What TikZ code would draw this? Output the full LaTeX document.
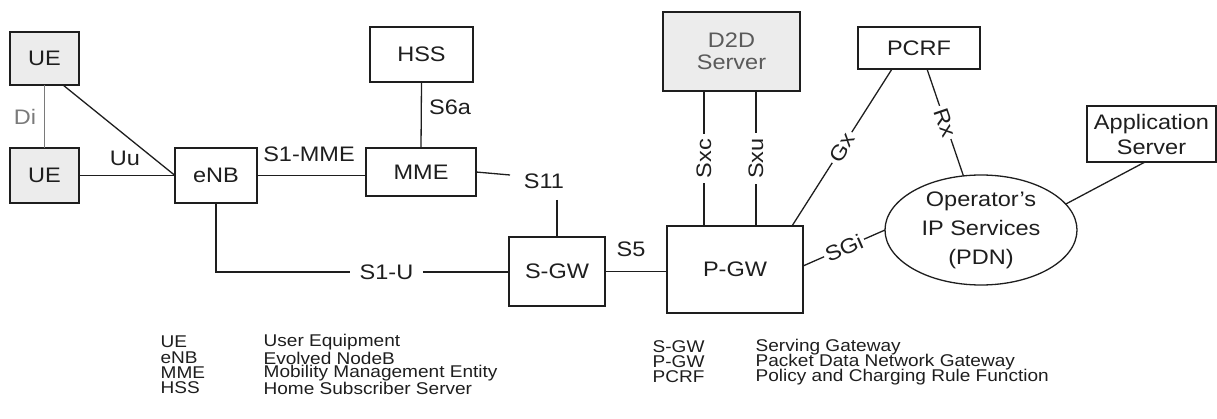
\documentclass[tikz,border=0pt]{standalone}
\usepackage{fontspec}
\setmainfont{Liberation Sans}[FakeStretch=1.12]
\usetikzlibrary{shapes.geometric,calc}
\definecolor{boxgray}{HTML}{ECECEC}
\definecolor{ink}{HTML}{1E1E1E}
\definecolor{softgray}{HTML}{7A7A7A}
\definecolor{d2dtext}{HTML}{5A5A5A}
\begin{document}
\begin{tikzpicture}[x=1pt,y=-1pt,line width=1.3pt,draw=ink,
  box/.style={draw=ink,rectangle,inner sep=0pt,outer sep=0pt,align=center,text=ink,
    font=\fontsize{21}{23}\selectfont},
  lbl/.style={text=ink,inner sep=1pt,font=\fontsize{21}{23}\selectfont},
  onl/.style={lbl,fill=white,sloped,midway,inner sep=3pt},
  leg/.style={anchor=west,inner sep=0pt,text=ink,font=\fontsize{17}{17}\selectfont}]
\useasboundingbox (0,0) rectangle (1217,419);
% nodes
\node[box,fill=boxgray,minimum width=69pt,minimum height=53pt] (ue1) at (44.5,58.5) {UE};
\node[box,fill=boxgray,minimum width=69pt,minimum height=55pt] (ue2) at (44.5,175.5) {UE};
\node[box,minimum width=82pt,minimum height=55pt] (enb) at (216,175.5) {eNB};
\node[box,minimum width=103pt,minimum height=55pt] (hss) at (421.5,54.5) {HSS};
\node[box,minimum width=110pt,minimum height=48pt] (mme) at (421,172) {MME};
\node[box,minimum width=96pt,minimum height=69pt] (sgw) at (557,271.5) {S-GW};
\node[box,minimum width=136pt,minimum height=87pt] (pgw) at (735,269.5) {P-GW};
\node[box,fill=boxgray,text=d2dtext,minimum width=137pt,minimum height=79pt,
  font=\fontsize{21}{22}\selectfont] (d2d) at (731.5,51.5) {D2D\\Server};
\node[box,minimum width=122pt,minimum height=42pt] (pcrf) at (919,48) {PCRF};
\node[box,minimum width=129pt,minimum height=56pt,font=\fontsize{21}{25}\selectfont]
  (app) at (1151.5,134) {Application\\Server};
\node[draw=ink,ellipse,minimum width=192pt,minimum height=110pt,inner sep=0pt,outer sep=0pt,
  align=center,text=ink,font=\fontsize{21}{29}\selectfont] (ell) at (981,230)
  {Operator's\\IP Services\\(PDN)};
\coordinate (s11a) at (510,175);
\coordinate (s11b) at (557,200);
% connectors
\draw[softgray] (ue1.south) -- (ue2.north);
\node[lbl,text=softgray] (di) at (25,117) {Di};
\draw ([xshift=18.5pt]ue1.south) -- (enb.west);
\draw (ue2.east) -- (enb.west);
\node[lbl] (uu) at (125,158) {Uu};
\draw (enb.east) -- (enb.east -| mme.west);
\node[lbl] (s1mme) at (309,154) {S1-MME};
\draw (hss.south) -- (mme.north);
\node[lbl] (s6a) at (450,107) {S6a};
\draw (mme.east) -- (s11a);
\node[lbl] (s11) at (544,181) {S11};
\draw (s11b) -- (s11b |- sgw.north);
\node[lbl,inner xsep=9pt] (s1u) at (386.5,272) {S1-U};
\draw (enb.south) |- (s1u.west);
\draw (s1u.east) -- (s1u.east -| sgw.west);
\draw (sgw.east) -- (sgw.east -| pgw.west);
\node[lbl] (s5) at (631,249) {S5};
\coordinate (sxc) at ([xshift=-27.5pt]d2d.south);
\coordinate (sxu) at ([xshift=24.5pt]d2d.south);
\draw (sxc) -- (sxc |- pgw.north) node[lbl,fill=white,midway,rotate=90,inner xsep=5pt] {Sxc};
\draw (sxu) -- (sxu |- pgw.north) node[lbl,fill=white,midway,rotate=90,inner xsep=5pt] {Sxu};
\draw ([xshift=57pt]pgw.north) -- ([xshift=-27pt]pcrf.south) node[onl] {Gx};
\draw ([xshift=8pt]pcrf.south) -- (ell.108) node[onl] {Rx};
\draw ([yshift=3.5pt]pgw.east) -- (ell.west) node[onl,inner sep=2pt] {SGi};
\draw (ell.17) -- ([xshift=-6.5pt]app.south);
% legend
\node[leg] (l1a) at (160,342) {UE};
\node[leg] (l1b) at (263,342) {User Equipment};
\node[leg] (l2a) at (160,358) {eNB};
\node[leg] (l2b) at (263,358) {Evolved NodeB};
\node[leg] (l3a) at (160,373) {MME};
\node[leg] (l3b) at (263,373) {Mobility Management Entity};
\node[leg] (l4a) at (160,388) {HSS};
\node[leg] (l4b) at (263,388) {Home Subscriber Server};
\node[leg] (r1a) at (652,347) {S-GW};
\node[leg] (r1b) at (755,347) {Serving Gateway};
\node[leg] (r2a) at (652,362) {P-GW};
\node[leg] (r2b) at (755,362) {Packet Data Network Gateway};
\node[leg] (r3a) at (652,377) {PCRF};
\node[leg] (r3b) at (755,377) {Policy and Charging Rule Function};
\end{tikzpicture}
\end{document}
